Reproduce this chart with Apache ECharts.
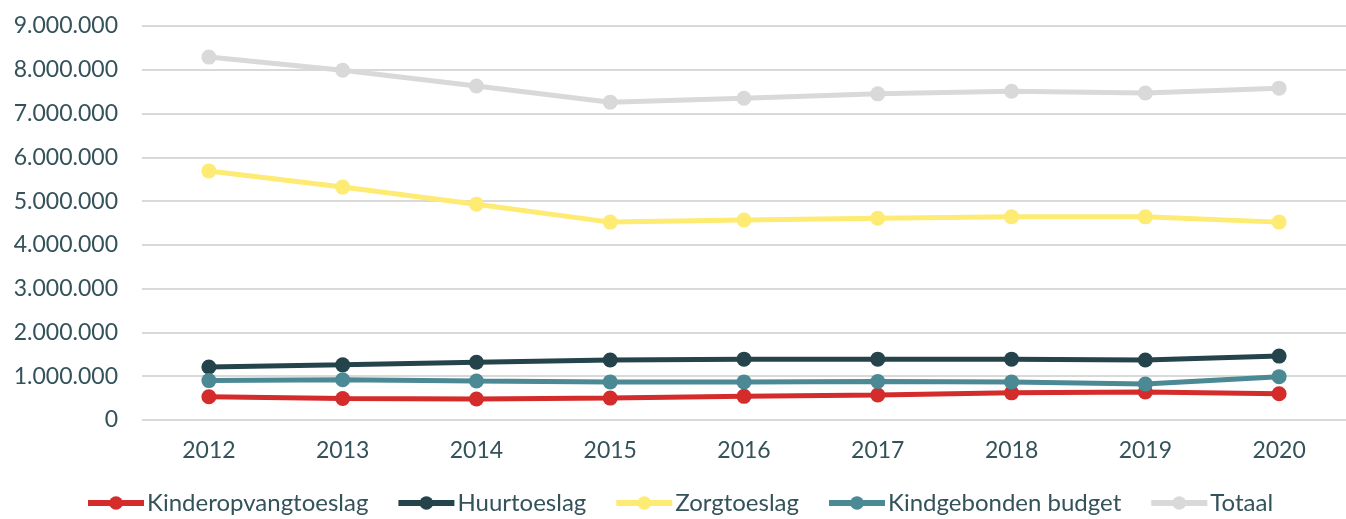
<!DOCTYPE html>
<html>
<head>
<meta charset="utf-8">
<script src="https://cdn.jsdelivr.net/npm/echarts@6/dist/echarts.min.js"></script>
<style>html,body{margin:0;padding:0;background:#fff;}#c{width:1346px;height:519px;}</style>
</head>
<body>
<div id="c"></div>
<script>
const years = ['2012','2013','2014','2015','2016','2017','2018','2019','2020'];
const kinderopvangtoeslag = [530000, 490000, 480000, 500000, 540000, 570000, 620000, 640000, 600000];
const huurtoeslag = [1210000, 1260000, 1320000, 1370000, 1390000, 1390000, 1390000, 1370000, 1460000];
const zorgtoeslag = [5690000, 5320000, 4930000, 4520000, 4570000, 4610000, 4640000, 4640000, 4520000];
const kindgebondenBudget = [900000, 920000, 890000, 870000, 870000, 880000, 870000, 820000, 990000];
const totaal = [8290000, 7990000, 7630000, 7260000, 7350000, 7450000, 7510000, 7470000, 7580000];
const seriesNames = ['Kinderopvangtoeslag','Huurtoeslag','Zorgtoeslag','Kindgebonden budget','Totaal'];
const seriesData = [kinderopvangtoeslag, huurtoeslag, zorgtoeslag, kindgebondenBudget, totaal];
const colors = ['#d42b2b','#25434a','#fdeb74','#4b8995','#d9d9d9'];

const textColor = '#33525a';
const chart = echarts.init(document.getElementById('c'), null, {renderer:'canvas'});
function fmt(v){ return String(v).replace(/\B(?=(\d{3})+(?!\d))/g, '.'); }
chart.setOption({
  animation:false,
  backgroundColor:'#ffffff',
  grid:{left:142, right:0, top:26, bottom:99},
  legend:{
    left:80, top:486,
    itemWidth:56, itemHeight:17, itemGap:27,
    lineStyle:{width:6},
    textStyle:{color:textColor, fontSize:24, fontFamily:"Lato, sans-serif", padding:[0,0,0,-2]},
    data:seriesNames
  },
  xAxis:{
    type:'category', data:years, boundaryGap:true,
    axisLine:{show:false}, axisTick:{show:false},
    axisLabel:{color:textColor, fontSize:23, fontFamily:'Lato, sans-serif', margin:19}
  },
  yAxis:{
    type:'value', min:0, max:9000000, interval:1000000,
    axisLine:{show:false}, axisTick:{show:false},
    axisLabel:{color:textColor, fontSize:23, fontFamily:'Lato, sans-serif', margin:24, formatter:fmt},
    splitLine:{lineStyle:{color:'#d9d9d9', width:2}}
  },
  series: seriesNames.map((n,i)=>({
    name:n, type:'line', data:seriesData[i],
    symbol:'circle', symbolSize:15,
    lineStyle:{color:colors[i], width:5},
    itemStyle:{color:colors[i]},
    z: 2
  }))
});
</script>
</body>
</html>
